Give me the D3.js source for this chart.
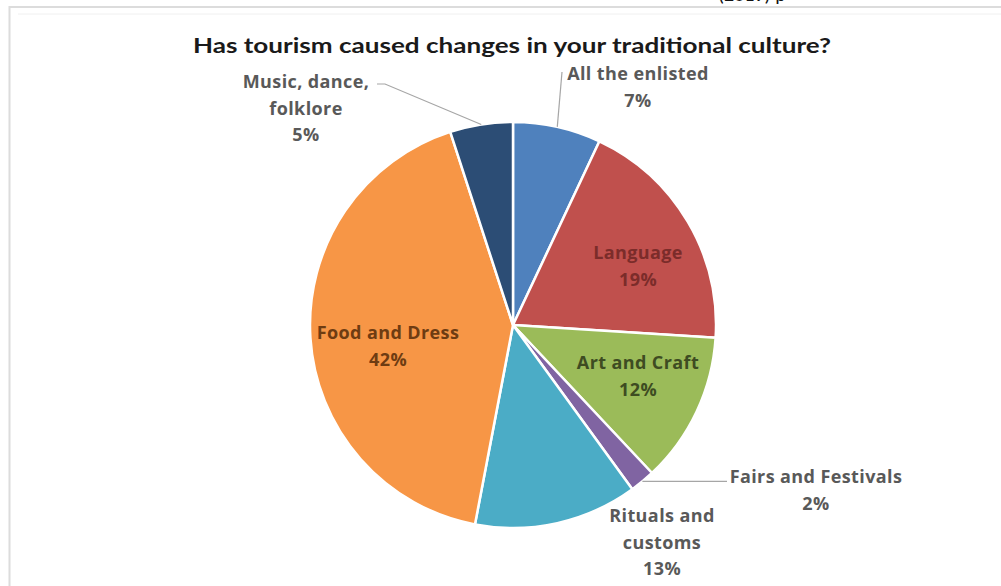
<!DOCTYPE html>
<html>
<head>
<meta charset="utf-8">
<script src="https://cdn.jsdelivr.net/npm/d3@7"></script>
<style>
  html, body { margin: 0; padding: 0; background: #fff; }
  svg { display: block; }
</style>
</head>
<body>
<svg id="chart" width="1001" height="586"></svg>
<script>
// Survey answers, clockwise from 12 o'clock
const categories = ["All the enlisted", "Language", "Art and Craft", "Fairs and Festivals",
                    "Rituals and customs", "Food and Dress", "Music, dance, folklore"];
const shares = [7, 19, 12, 2, 13, 42, 5];
const labelLines = [
  ["All the enlisted"], ["Language"], ["Art and Craft"], ["Fairs and Festivals"],
  ["Rituals and", "customs"], ["Food and Dress"], ["Music, dance,", "folklore"]
];
const sliceColors = ["#4f81bd", "#c0504d", "#9bbb59", "#8064a2", "#4bacc6", "#f79646", "#2c4d75"];
const titleText = "Has tourism caused changes in your traditional culture?";

const svg = d3.select("#chart");
const W = 1001, H = 586;
const cx = 513, cy = 325, R = 203;
const titleFont = "Lato, 'Open Sans', 'DejaVu Sans', sans-serif";
const labelFont = "'Open Sans', Lato, 'DejaVu Sans', sans-serif";

// stray line of page text cut off at the top edge
svg.append("text")
  .attr("x", 718).attr("y", 1)
  .attr("font-family", "Calibri, 'Liberation Sans', sans-serif")
  .attr("font-size", 20).attr("fill", "#111")
  .text("(2019) p");

// chart frame
svg.append("line").attr("x1", 9.5).attr("x2", 9.5).attr("y1", 6).attr("y2", H)
  .attr("stroke", "#dcdcdc").attr("stroke-width", 2);
svg.append("line").attr("x1", 9).attr("x2", W).attr("y1", 7).attr("y2", 7)
  .attr("stroke", "#dcdcdc").attr("stroke-width", 2);
svg.append("line").attr("x1", 18).attr("x2", W).attr("y1", 14).attr("y2", 14)
  .attr("stroke", "#f0f0f0").attr("stroke-width", 1);

// title
svg.append("text")
  .attr("x", 512).attr("y", 53)
  .attr("text-anchor", "middle")
  .attr("font-family", titleFont).attr("font-weight", 700)
  .attr("font-size", 21).attr("fill", "#1a1a1a")
  .attr("textLength", 638).attr("lengthAdjust", "spacingAndGlyphs")
  .text(titleText);

const data = categories.map((c, i) => ({ name: c, value: shares[i], lines: labelLines[i], color: sliceColors[i] }));
const pie = d3.pie().value(d => d.value).sort(null).startAngle(0).endAngle(2 * Math.PI);
const arcs = pie(data);
const arc = d3.arc().innerRadius(0).outerRadius(R);
const edgeArc = d3.arc().innerRadius(R).outerRadius(R);

const g = svg.append("g").attr("transform", `translate(${cx},${cy})`);
g.selectAll("path.slice").data(arcs).join("path")
  .attr("class", "slice")
  .attr("d", arc)
  .attr("fill", d => d.data.color)
  .attr("stroke", "#fff").attr("stroke-width", 2.5).attr("stroke-linejoin", "round");

// label placement: centre x, first baseline y, text colour, leader end (or null)
const placement = {
  "All the enlisted":      { x: 638, y: 80,  fill: "#595959", lead: [562, 72] },
  "Language":              { x: 638, y: 259, fill: "#7b2c2a", lead: null },
  "Art and Craft":         { x: 638, y: 369, fill: "#3e4c22", lead: null },
  "Fairs and Festivals":   { x: 816, y: 483, fill: "#595959", lead: [727, 478] },
  "Rituals and customs":   { x: 662, y: 522, fill: "#595959", lead: null },
  "Food and Dress":        { x: 388, y: 339, fill: "#6e3c12", lead: null },
  "Music, dance, folklore":{ x: 306, y: 88,  fill: "#595959", lead: [377, 84] }
};
const lineH = 26.5;

// leader lines from the slice rim to the outside labels
arcs.forEach(a => {
  const p = placement[a.data.name];
  if (!p.lead) return;
  const [ex, ey] = edgeArc.centroid(a);
  const sx = cx + ex, sy = cy + ey;
  let pts;
  if (a.data.name === "Fairs and Festivals") {
    pts = [[sx, sy], [p.lead[0], sy]];
  } else if (a.data.name === "Music, dance, folklore") {
    pts = [[sx, sy], [p.lead[0] + 8, p.lead[1]], [p.lead[0], p.lead[1]]];
  } else {
    pts = [[sx, sy], p.lead];
  }
  svg.append("path")
    .attr("d", d3.line()(pts))
    .attr("fill", "none").attr("stroke", "#a6a6a6").attr("stroke-width", 1.2);
});

// labels: category name lines and share
arcs.forEach(a => {
  const p = placement[a.data.name];
  const t = svg.append("text")
    .attr("text-anchor", "middle")
    .attr("font-family", labelFont).attr("font-weight", 700)
    .attr("font-size", 18).attr("letter-spacing", 0.4).attr("fill", p.fill);
  const rows = a.data.lines.concat([a.data.value + "%"]);
  rows.forEach((r, i) => {
    t.append("tspan").attr("x", p.x).attr("y", p.y + i * lineH).text(r);
  });
});
</script>
</body>
</html>
